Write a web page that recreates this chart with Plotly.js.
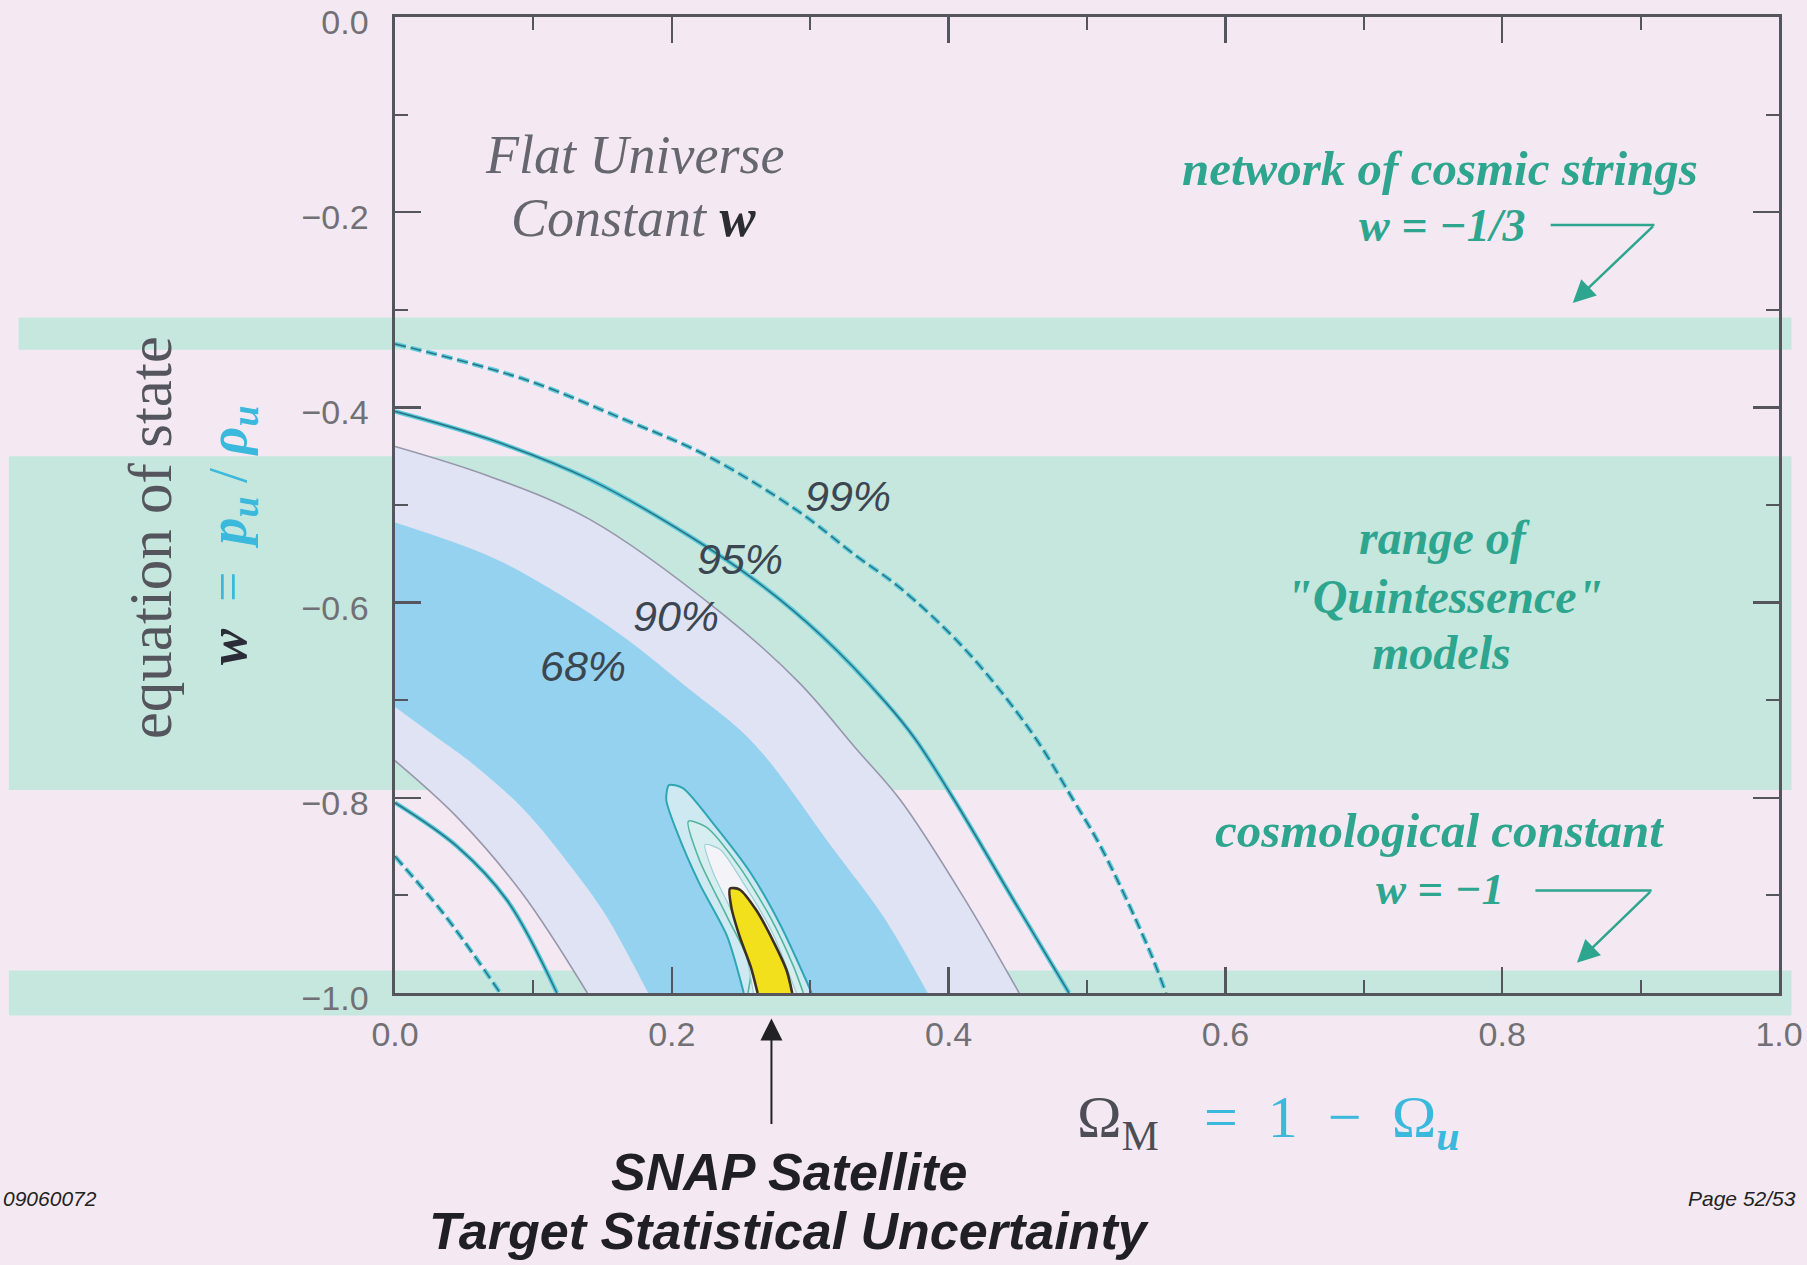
<!DOCTYPE html>
<html>
<head>
<meta charset="utf-8">
<script src="https://cdn.plot.ly/plotly-3.0.1.min.js"></script>
<style>
  html, body { margin: 0; padding: 0; background: #f4e9f2; }
  #chart { width: 1807px; height: 1265px; }
</style>
</head>
<body>
<div id="chart"></div>
<script>
// ---- axes --------------------------------------------------------------
const X_RANGE = [0, 1];
const W_RANGE = [-1, 0];
const X_TICKS = [0, 0.2, 0.4, 0.6, 0.8, 1.0];
const W_TICKS = [0, -0.2, -0.4, -0.6, -0.8, -1.0];

// ---- theoretical w ranges [lower, upper] -------------------------------
const BAND_STRINGS = [-0.341, -0.308];      // network of cosmic strings, w = -1/3
const BAND_QUINTESSENCE = [-0.792, -0.450]; // range of quintessence models
const BAND_LAMBDA = [-1.023, -0.977];       // cosmological constant, w = -1

// ---- current-data confidence boundaries (Omega_M, w) -------------------
const C99_OUT_X = [0, 0.093, 0.165, 0.226, 0.290, 0.334, 0.365, 0.412, 0.460, 0.490, 0.511, 0.545, 0.557];
const C99_OUT_W = [-0.335, -0.371, -0.412, -0.450, -0.505, -0.553, -0.585, -0.648, -0.733, -0.802, -0.853, -0.956, -1.0];

const C95_OUT_X = [0, 0.069, 0.141, 0.213, 0.262, 0.309, 0.355, 0.376, 0.404, 0.447, 0.487];
const C95_OUT_W = [-0.404, -0.433, -0.474, -0.532, -0.579, -0.635, -0.703, -0.740, -0.802, -0.905, -1.0];

const C90_OUT_X = [0, 0.069, 0.141, 0.237, 0.292, 0.334, 0.365, 0.410, 0.451];
const C90_OUT_W = [-0.440, -0.471, -0.515, -0.612, -0.682, -0.751, -0.802, -0.900, -1.0];

const C68_OUT_X = [0, 0.069, 0.117, 0.165, 0.213, 0.249, 0.270, 0.317, 0.353, 0.385];
const C68_OUT_W = [-0.518, -0.553, -0.590, -0.635, -0.689, -0.730, -0.762, -0.853, -0.922, -1.0];

const C68_IN_X = [0, 0.030, 0.056, 0.093, 0.129, 0.153, 0.183];
const C68_IN_W = [-0.707, -0.738, -0.765, -0.812, -0.874, -0.922, -1.0];

const C90_IN_X = [0, 0.045, 0.092, 0.139];
const C90_IN_W = [-0.762, -0.820, -0.898, -1.0];

const C95_IN_X = [0, 0.045, 0.081, 0.117];
const C95_IN_W = [-0.805, -0.850, -0.905, -1.0];

const C99_IN_X = [0, 0.033, 0.056, 0.076];
const C99_IN_W = [-0.860, -0.915, -0.959, -1.0];

// ---- SNAP target contours (closed outlines, cut by w = -1) -------------
const SNAP_OUTER_X = [0.252, 0.240, 0.220, 0.204, 0.196, 0.198, 0.208, 0.232, 0.257, 0.278, 0.298, 0.301];
const SNAP_OUTER_W = [-1.0, -0.942, -0.888, -0.836, -0.802, -0.787, -0.790, -0.830, -0.877, -0.929, -0.990, -1.0];

const SNAP_MID_X = [0.255, 0.257, 0.240, 0.220, 0.212, 0.225, 0.249, 0.271, 0.288, 0.295];
const SNAP_MID_W = [-1.0, -0.973, -0.922, -0.864, -0.824, -0.830, -0.871, -0.922, -0.973, -1.0];

const SNAP_INNER_X = [0.259, 0.254, 0.245, 0.230, 0.224, 0.235, 0.252, 0.273, 0.290];
const SNAP_INNER_W = [-1.0, -0.963, -0.922, -0.877, -0.848, -0.853, -0.888, -0.939, -1.0];

const SNAP_CORE_X = [0.262, 0.257, 0.249, 0.243, 0.242, 0.249, 0.261, 0.273, 0.283, 0.287];
const SNAP_CORE_W = [-1.0, -0.973, -0.942, -0.912, -0.893, -0.894, -0.915, -0.946, -0.977, -1.0];

// ---- label values -----------------------------------------------------
const LEVEL_LABELS = ['99%', '95%', '90%', '68%'];
const LEVEL_LABEL_X = [0.327, 0.249, 0.203, 0.136];
const LEVEL_LABEL_W = [-0.491, -0.555, -0.614, -0.665];
const SNAP_OMEGA_M = 0.272;

// ---- styling ----------------------------------------------------------
const BG = '#f4e9f2';
const BAND = '#c6e7dd';
const BLUE68 = '#95d2ef';
const LAV90 = '#dfe3f4';
const TEAL_HALO = '#5ccbdc';
const TEAL_CORE = '#2b7685';
const GREY90 = '#9797ab';
const AXIS = '#55555d';
const TXT_TEAL = '#2ea58e';
const CYAN = '#3bb9dc';
const SERIF = 'Liberation Serif, Times New Roman, serif';
const SANS = 'Liberation Sans, Arial, sans-serif';
const NB = '\u00a0';
const SMOOTH = 1.0;

// paper fraction of a w value, from the y axis range
function wToPaper(w) {
  return (w - W_RANGE[0]) / (W_RANGE[1] - W_RANGE[0]);
}

// band between an outer and an inner boundary; the corner points on the
// frame are repeated so the spline keeps a sharp corner there
function region(xOut, wOut, xIn, wIn, color) {
  const xi = xIn.slice().reverse();
  const wi = wIn.slice().reverse();
  const last = xOut.length - 1;
  const xs = xOut.concat([xOut[last]], [xi[0]], xi);
  const ws = wOut.concat([wOut[last]], [wi[0]], wi);
  return {
    type: 'scatter', mode: 'lines', fill: 'toself', fillcolor: color,
    x: xs, y: ws,
    line: { width: 0, shape: 'spline', smoothing: SMOOTH, simplify: false },
    hoverinfo: 'skip', showlegend: false
  };
}

function curve(xs, ws, color, width, dash) {
  return {
    type: 'scatter', mode: 'lines', x: xs, y: ws,
    line: { color: color, width: width, dash: dash || 'solid', shape: 'spline', smoothing: SMOOTH },
    hoverinfo: 'skip', showlegend: false
  };
}

function tealCurve(xs, ws, dash) {
  return [curve(xs, ws, TEAL_HALO, 4.5, dash), curve(xs, ws, TEAL_CORE, 1.6, dash)];
}

function closedShape(xs, ws, fill, lineColor, lineWidth) {
  return {
    type: 'scatter', mode: 'lines', fill: 'toself', fillcolor: fill,
    x: xs, y: ws,
    line: { color: lineColor, width: lineWidth, shape: 'spline', smoothing: 0.7 },
    hoverinfo: 'skip', showlegend: false
  };
}

const DASH = '11px,5px';

const traces = [
  region(C90_OUT_X, C90_OUT_W, C90_IN_X, C90_IN_W, LAV90),
  region(C68_OUT_X, C68_OUT_W, C68_IN_X, C68_IN_W, BLUE68),
  curve(C90_OUT_X, C90_OUT_W, GREY90, 1.6),
  curve(C90_IN_X, C90_IN_W, GREY90, 1.6),
  ...tealCurve(C95_OUT_X, C95_OUT_W),
  ...tealCurve(C95_IN_X, C95_IN_W),
  ...tealCurve(C99_OUT_X, C99_OUT_W, DASH),
  ...tealCurve(C99_IN_X, C99_IN_W, DASH),
  closedShape(SNAP_OUTER_X, SNAP_OUTER_W, '#cfe9f3', '#2ea6b3', 2),
  closedShape(SNAP_MID_X, SNAP_MID_W, '#d7eef0', '#54b49c', 1.6),
  closedShape(SNAP_INNER_X, SNAP_INNER_W, '#f3f3f8', '#9ccfd6', 1.2),
  closedShape(SNAP_CORE_X, SNAP_CORE_W, '#f3e01c', '#3a3122', 2.6)
];

// horizontal theory bands run past the frame on both sides
function band(range, x0) {
  return {
    type: 'rect', xref: 'paper', yref: 'paper', layer: 'below',
    x0: x0, x1: 1.009, y0: wToPaper(range[0]), y1: wToPaper(range[1]),
    fillcolor: BAND, line: { width: 0 }
  };
}

const shapes = [
  band(BAND_STRINGS, -0.272),
  band(BAND_QUINTESSENCE, -0.279),
  band(BAND_LAMBDA, -0.279),
  { type: 'line', xref: 'x', yref: 'y', x0: 0.835, x1: 0.910, y0: -0.213, y1: -0.213,
    line: { color: TXT_TEAL, width: 2.5 } },
  { type: 'line', xref: 'x', yref: 'y', x0: 0.824, x1: 0.908, y0: -0.895, y1: -0.895,
    line: { color: TXT_TEAL, width: 2.5 } }
];

function note(text, x, y, size, color, family, extra) {
  return Object.assign({
    text: text, x: x, y: y, xref: 'x', yref: 'y', showarrow: false,
    xanchor: 'center', yanchor: 'middle',
    font: { size: size, color: color, family: family }
  }, extra || {});
}

const annotations = [
  note('<i>Flat Universe</i>', 0.173, -0.141, 54, '#66666e', SERIF),
  note('<i>Constant </i><b><i style="color:#2c2c33">w</i></b>', 0.173, -0.206, 54, '#66666e', SERIF),

  note('<b><i>network of cosmic strings</i></b>', 0.755, -0.155, 49, TXT_TEAL, SERIF),
  note('<b><i>w = −1/3</i></b>', 0.757, -0.214, 46, TXT_TEAL, SERIF),
  note('<b><i>range of</i></b>', 0.758, -0.533, 48, TXT_TEAL, SERIF),
  note('<b><i>"Quintessence"</i></b>', 0.758, -0.594, 48, TXT_TEAL, SERIF),
  note('<b><i>models</i></b>', 0.756, -0.651, 48, TXT_TEAL, SERIF),
  note('<b><i>cosmological constant</i></b>', 0.755, -0.834, 49, TXT_TEAL, SERIF),
  note('<b><i>w = −1</i></b>', 0.755, -0.893, 45, TXT_TEAL, SERIF),

  // theory pointers
  { text: '', x: 0.851, y: -0.293, xref: 'x', yref: 'y', ax: 0.910, ay: -0.213, axref: 'x', ayref: 'y',
    showarrow: true, arrowhead: 2, arrowsize: 1.8, arrowwidth: 2.5, arrowcolor: TXT_TEAL },
  { text: '', x: 0.854, y: -0.969, xref: 'x', yref: 'y', ax: 0.908, ay: -0.895, axref: 'x', ayref: 'y',
    showarrow: true, arrowhead: 2, arrowsize: 1.8, arrowwidth: 2.5, arrowcolor: TXT_TEAL },

  // SNAP pointer and caption
  { text: '', x: SNAP_OMEGA_M, y: -0.026, xref: 'x', yref: 'paper', ax: 0, ay: 107,
    showarrow: true, arrowhead: 2, arrowsize: 2.2, arrowwidth: 2, arrowcolor: '#222226' },
  { text: '<b><i>SNAP Satellite</i></b>', x: 0.285, y: -0.183, xref: 'paper', yref: 'paper',
    showarrow: false, xanchor: 'center', yanchor: 'middle', font: { size: 52, color: '#1f1f25', family: SANS } },
  { text: '<b><i>Target Statistical Uncertainty</i></b>', x: 0.285, y: -0.244, xref: 'paper', yref: 'paper',
    showarrow: false, xanchor: 'center', yanchor: 'middle', font: { size: 52, color: '#1f1f25', family: SANS } },

  // axis titles
  { text: 'equation of state', x: -0.177, y: 0.466, xref: 'paper', yref: 'paper', textangle: -90,
    showarrow: false, xanchor: 'center', yanchor: 'middle', font: { size: 61, color: '#55555e', family: SERIF } },
  { text: '<b><i>w</i></b><span style="color:' + CYAN + '">' + NB + NB + '=' + NB + NB +
          '<b><i>p<sub>u</sub></i></b>' + NB + '/' + NB + '<b><i>ρ<sub>u</sub></i></b></span>',
    x: -0.118, y: 0.469, xref: 'paper', yref: 'paper', textangle: -90,
    showarrow: false, xanchor: 'center', yanchor: 'middle', font: { size: 54, color: '#2c2c38', family: SERIF } },
  { text: 'Ω<sub>M</sub><span style="color:' + CYAN + '">' + NB + NB + NB + '=' + NB + NB + '1' + NB + NB + '−' +
          NB + NB + 'Ω<sub><b><i>u</i></b></sub></span>',
    x: 0.631, y: -0.132, xref: 'paper', yref: 'paper',
    showarrow: false, xanchor: 'center', yanchor: 'middle', font: { size: 60, color: '#4d4d55', family: SERIF } },

  // page footer
  { text: '<i>09060072</i>', x: -0.2847, y: -0.211, xref: 'paper', yref: 'paper',
    showarrow: false, xanchor: 'left', yanchor: 'middle', font: { size: 21, color: '#222', family: SANS } },
  { text: '<i>Page 52/53</i>', x: 1.0137, y: -0.211, xref: 'paper', yref: 'paper',
    showarrow: false, xanchor: 'right', yanchor: 'middle', font: { size: 21, color: '#222', family: SANS } }
];

LEVEL_LABELS.forEach(function (lab, i) {
  annotations.push(note('<i>' + lab + '</i>', LEVEL_LABEL_X[i], LEVEL_LABEL_W[i], 43, '#3c4651', SANS));
});

function axisStyle(standoff, ticks, shift) {
  return {
    range: ticks === X_TICKS ? X_RANGE : W_RANGE,
    tickmode: 'array', tickvals: ticks, tickformat: '.1f',
    ticks: 'inside', ticklen: 26, tickwidth: 2.2, tickcolor: AXIS,
    minor: { tickmode: 'linear', tick0: 0, dtick: 0.1, ticks: 'inside', ticklen: 13, tickwidth: 2, tickcolor: AXIS, showgrid: false },
    showline: true, linecolor: AXIS, linewidth: 2.6, mirror: 'ticks',
    showgrid: false, zeroline: false, fixedrange: true,
    ticklabelstandoff: standoff, ticklabelshift: shift, ticklabeloverflow: 'allow',
    tickfont: { family: SANS, size: 34, color: '#707075' }
  };
}

const layout = {
  width: 1807, height: 1265,
  margin: { l: 395, r: 28, t: 17, b: 272, pad: 0 },
  paper_bgcolor: BG, plot_bgcolor: BG,
  showlegend: false,
  xaxis: axisStyle(10, X_TICKS, 0),
  yaxis: axisStyle(17, W_TICKS, 5),
  shapes: shapes,
  annotations: annotations
};

Plotly.newPlot('chart', traces, layout, { staticPlot: true, displayModeBar: false });
</script>
</body>
</html>
